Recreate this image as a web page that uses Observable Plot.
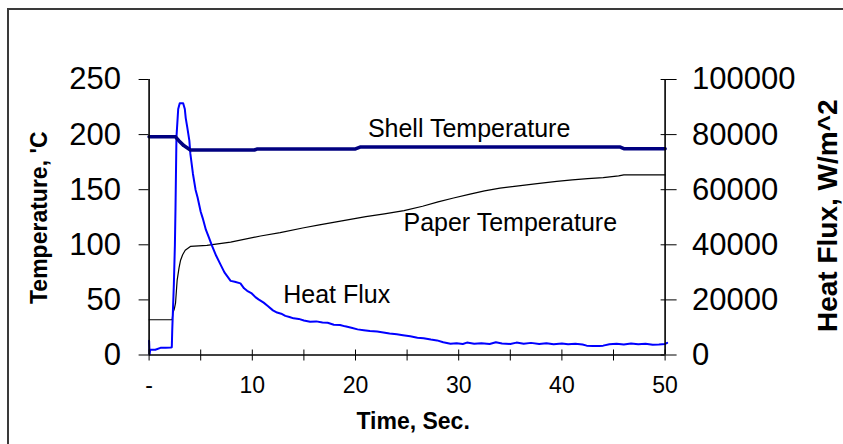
<!DOCTYPE html>
<html><head><meta charset="utf-8">
<script src="https://cdn.jsdelivr.net/npm/d3@7"></script>
<script src="https://cdn.jsdelivr.net/npm/@observablehq/plot@0.6"></script>
<style>
body{margin:0;background:#fff;}
#wrap{position:relative;width:843px;height:444px;overflow:hidden;background:#fff;}
#border{position:absolute;left:7px;top:8px;width:900px;height:500px;border:2px solid #3a3a3a;box-sizing:border-box;}
#wrap svg{position:absolute;left:0;top:0;}
</style></head><body><div id="wrap"><div id="border"></div></div>
<script>
// ---- data ----
const xTicks = [0, 5, 10, 15, 20, 25, 30, 35, 40, 45, 50];
const tempTicks = [0, 50, 100, 150, 200, 250];
const fluxPerDegree = 400; // right axis: 100000 W/m^2 aligns with 250 'C

const shellTime = [0, 2.56, 2.88, 3.36, 4.0, 10.2, 10.5, 20.0, 20.5, 45.6, 46.0, 50];
const shellTemp = [198, 198, 194.5, 190, 186, 186, 187, 187, 188.8, 188.8, 187.2, 187.2];

const paperTime = [0, 2.24, 2.3, 2.45, 2.56, 2.72, 2.9, 3.05, 3.25, 3.5, 4.0, 5.6, 7.9, 10.8, 12.7, 15.0, 16.5, 18.0, 19.5, 21.0, 22.8, 24.7, 26.5, 28.0, 29.5, 31.1, 32.5, 34.0, 35.8, 37.6, 39.5, 41.0, 42.5, 44.0, 45.5, 46.0, 50];
const paperTemp = [32, 32, 38, 42, 47, 68, 79, 86, 91, 95, 98.5, 99.5, 102.5, 108, 111, 115.5, 118, 120.5, 123, 125.5, 128, 131, 135, 139, 142.5, 146, 149, 151.5, 153.5, 155.5, 157.5, 159, 160, 161, 162.5, 163.5, 163.5];

const fluxTime = [0, 0.05, 0.1, 0.6, 1.1, 1.6, 2.1, 2.2, 2.24, 2.4, 2.5, 2.56, 2.65, 2.82, 2.97, 3.3, 3.46, 3.55, 3.7, 3.9, 4.0, 4.25, 4.5, 4.7, 5.0, 5.2, 5.5, 5.8, 6.1, 6.5, 6.9, 7.3, 7.9, 8.3, 8.85, 9.2, 9.5, 9.9, 10.3, 10.6, 11.1, 11.5, 12.0, 12.4, 12.8, 13.2, 13.6, 14.0, 14.5, 15.0, 15.6, 16.2, 16.8, 17.3, 17.9, 18.5, 19.0, 19.6, 20.2, 20.8, 21.4, 22.1, 22.7, 23.3, 24.0, 24.6, 25.3, 26.0, 26.6, 27.3, 27.9, 28.5, 29.2, 29.8, 30.4, 30.8, 31.5, 32.2, 33.0, 33.6, 34.2, 35.0, 35.6, 36.3, 37.0, 37.8, 38.5, 39.2, 40.0, 40.6, 41.3, 42.0, 42.4, 43.0, 43.6, 44.0, 44.6, 45.3, 46.0, 46.7, 47.4, 48.1, 48.8, 49.4, 50.0, 50.2];
const fluxValue = [5200, 200, 1900, 1900, 2600, 2600, 2700, 2800, 8700, 25800, 40000, 53600, 79000, 89300, 91400, 91400, 89300, 86000, 82600, 77800, 73000, 65700, 60000, 57200, 52000, 49600, 45500, 42600, 39600, 36000, 33000, 30000, 26900, 26600, 26000, 24200, 23300, 22500, 21000, 20200, 19000, 17800, 16200, 15400, 15000, 14200, 13800, 13300, 13100, 12500, 12100, 12200, 11800, 11700, 11000, 10900, 10400, 9900, 9300, 9000, 8700, 8500, 8200, 7800, 7500, 7200, 6800, 6300, 6100, 5600, 5300, 4600, 4100, 4300, 4000, 4500, 4100, 4300, 4000, 4600, 4200, 4000, 4500, 4100, 4400, 4000, 4300, 3900, 4200, 3900, 4100, 3800, 3400, 3300, 3300, 3400, 3900, 4100, 3800, 4200, 3900, 4100, 3700, 3800, 4000, 4400];

const seriesLabels = ["Shell Temperature", "Paper Temperature", "Heat Flux"];
const labelTime = [21.2, 24.65, 13.0];
const labelTemp = [205, 119.5, 54.4];

// ---- build tables ----
const shell = shellTime.map((t, i) => ({t, v: shellTemp[i]}));
const paper = paperTime.map((t, i) => ({t, v: paperTemp[i]}));
const flux = fluxTime.map((t, i) => ({t, f: fluxValue[i]}));
const labels = seriesLabels.map((name, i) => ({name, t: labelTime[i], v: labelTemp[i]}));

const font = "'Liberation Sans', Arial, Helvetica, sans-serif";

const chart = Plot.plot({
  width: 843,
  height: 444,
  marginLeft: 148.6,
  marginRight: 178.4,
  marginTop: 79,
  marginBottom: 89.5,
  style: {fontFamily: font, background: "transparent", color: "#000", overflow: "visible"},
  x: {domain: [0, 50]},
  y: {domain: [0, 250]},
  marks: [
    Plot.line(paper, {x: "t", y: "v", stroke: "#000", strokeWidth: 1.2}),
    Plot.line(flux, {x: "t", y: d => d.f / fluxPerDegree, stroke: "#0000ff", strokeWidth: 2}),
    Plot.line(shell, {x: "t", y: "v", stroke: "#000080", strokeWidth: 3.6}),
    Plot.ruleX([0, 50], {stroke: "#000", strokeWidth: 1.6}),
    Plot.ruleY([0], {stroke: "#000", strokeWidth: 1.6}),
    Plot.axisY({anchor: "left", ticks: tempTicks, tickSize: 10, tickPadding: 18, fontSize: 31, label: null, tickFormat: d => String(d)}),
    Plot.axisY({anchor: "right", ticks: tempTicks, tickSize: 11, tickPadding: 16, fontSize: 31, label: null, tickFormat: d => String(d * fluxPerDegree)}),
    Plot.axisY({anchor: "right", ticks: tempTicks, tickSize: 5, dx: -5, label: null, tickFormat: () => ""}),
    Plot.axisX({ticks: xTicks, tickSize: 6, tickPadding: 16, fontSize: 23, label: null, tickFormat: d => d === 0 ? "-" : (d % 10 === 0 ? String(d) : "")}),
    Plot.axisX({ticks: xTicks, tickSize: 5, dy: -5, label: null, tickFormat: () => ""}),
    Plot.text(labels, {x: "t", y: "v", text: "name", textAnchor: "start", fontSize: 25, fill: "#000"}),
    Plot.text(["Temperature, 'C"], {frameAnchor: "left", textAnchor: "middle", lineAnchor: "middle", dx: -109.6, dy: 0.5, rotate: -90, fontSize: 23, fontWeight: "bold", fill: "#000"}),
    Plot.text(["Heat Flux, W/m^2"], {frameAnchor: "right", textAnchor: "middle", lineAnchor: "middle", dx: 162.5, dy: -1.5, rotate: -90, fontSize: 28, fontWeight: "bold", fill: "#000"}),
    Plot.text(["Time, Sec."], {frameAnchor: "bottom", textAnchor: "middle", lineAnchor: "middle", dx: 6, dy: 66.5, fontSize: 23, fontWeight: "bold", fill: "#000"})
  ]
});
document.getElementById("wrap").appendChild(chart);
</script>
</body></html>
